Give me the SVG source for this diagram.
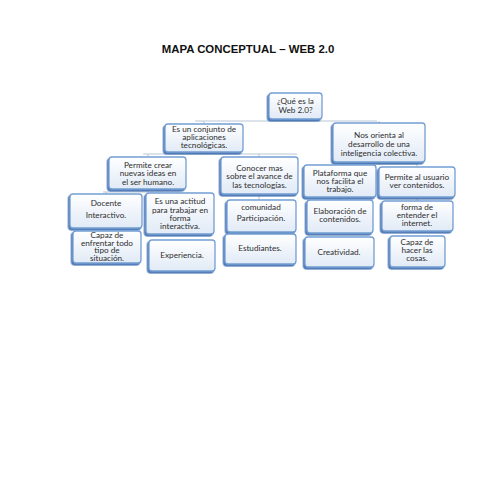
<svg xmlns="http://www.w3.org/2000/svg" width="495" height="495" viewBox="0 0 495 495">
<defs>
<linearGradient id="g" x1="0" y1="0" x2="0" y2="1">
<stop offset="0" stop-color="#ffffff"/>
<stop offset="1" stop-color="#e1eaf6"/>
</linearGradient>
<filter id="sh" x="-10%" y="-10%" width="120%" height="130%">
<feDropShadow dx="-1.5" dy="1.8" stdDeviation="0.6" flood-color="#3a6aad" flood-opacity="0.9"/>
</filter>
</defs>
<style>
.b{fill:url(#g);stroke:#739ed4;stroke-width:1.3;filter:url(#sh)}
.t{font-family:Lato,"Liberation Sans",sans-serif;font-size:8.2px;fill:#2e2e2e;text-anchor:middle}
.c{fill:none;stroke:#b9c6d6;stroke-width:1}
.title{font-family:"Liberation Sans",Arial,sans-serif;font-weight:bold;font-size:11.4px;fill:#111;text-anchor:middle}
</style>
<rect width="495" height="495" fill="#fff"/>
<text class="title" x="248" y="53">MAPA CONCEPTUAL – WEB 2.0</text>
<g id="connectors">
<path class="c" d="M295 119V121M195 121H377M204 121V124M379 121V123"/>
<path class="c" d="M204 152V154M143 154H297M148 154V157M259 154V157"/>
<path class="c" d="M379 162V164M340 164H417M340 164V166M417 164V167"/>
<path class="c" d="M148 188V192M103 192H180M106 192V194M180 192V194"/>
<path class="c" d="M259 194V200"/>
<path class="c" d="M340 197V200M417 197V201"/>
</g>
<g id="n0"><rect class="b" x="269" y="93" width="53" height="26" rx="3"/>
<text class="t" x="295.5" y="104">¿Qué es la</text><text class="t" x="295.5" y="113">Web 2.0?</text></g>
<g id="n1"><rect class="b" x="165" y="124" width="78" height="28" rx="3"/>
<text class="t" x="204" y="132">Es un conjunto de</text><text class="t" x="204" y="140">aplicaciones</text><text class="t" x="204" y="148">tecnológicas.</text></g>
<g id="n2"><rect class="b" x="333" y="123" width="92" height="39" rx="3"/>
<text class="t" x="379" y="138">Nos orienta al</text><text class="t" x="379" y="147">desarrollo de una</text><text class="t" x="379" y="156">inteligencia colectiva.</text></g>
<g id="n3"><rect class="b" x="109" y="157" width="77" height="32" rx="3"/>
<text class="t" x="148" y="168">Permite crear</text><text class="t" x="148" y="176">nuevas ideas en</text><text class="t" x="148" y="185">el ser humano.</text></g>
<g id="n4"><rect class="b" x="221" y="157" width="77" height="37" rx="3"/>
<text class="t" x="259.5" y="171">Conocer  mas</text><text class="t" x="259.5" y="179">sobre el avance de</text><text class="t" x="259.5" y="188">las tecnologías.</text></g>
<g id="n5"><rect class="b" x="304" y="165" width="72" height="32" rx="3"/>
<text class="t" x="340" y="176">Plataforma  que</text><text class="t" x="340" y="184">nos facilita el</text><text class="t" x="340" y="192">trabajo.</text></g>
<g id="n6"><rect class="b" x="379" y="167" width="76" height="30" rx="3"/>
<text class="t" x="417" y="180">Permite al usuario</text><text class="t" x="417" y="188">ver contenidos.</text></g>
<g id="n7"><rect class="b" x="70" y="194" width="72" height="34" rx="3"/>
<text class="t" x="106" y="206">Docente</text><text class="t" x="106" y="218">Interactivo.</text></g>
<g id="n8"><rect class="b" x="73" y="231" width="68" height="32" rx="3"/>
<text class="t" x="107" y="238">Capaz de</text><text class="t" x="107" y="246">enfrentar todo</text><text class="t" x="107" y="253">tipo de</text><text class="t" x="107" y="261">situación.</text></g>
<g id="n9"><rect class="b" x="146" y="193" width="68" height="41" rx="3"/>
<text class="t" x="180" y="204">Es una actitud</text><text class="t" x="180" y="213">para trabajar en</text><text class="t" x="180" y="221">forma</text><text class="t" x="180" y="229">interactiva.</text></g>
<g id="n10"><rect class="b" x="149" y="240" width="66" height="31" rx="3"/>
<text class="t" x="182" y="258">Experiencia.</text></g>
<g id="n11"><rect class="b" x="227" y="200" width="69" height="32" rx="3"/>
<text class="t" x="261" y="210">comunidad</text><text class="t" x="261" y="221">Participación.</text></g>
<g id="n12"><rect class="b" x="225" y="234" width="71" height="30" rx="3"/>
<text class="t" x="260" y="251">Estudiantes.</text></g>
<g id="n13"><rect class="b" x="307" y="200" width="66" height="33" rx="3"/>
<text class="t" x="340" y="214">Elaboración de</text><text class="t" x="340" y="222">contenidos.</text></g>
<g id="n14"><rect class="b" x="305" y="237" width="69" height="30" rx="3"/>
<text class="t" x="339" y="255">Creatividad.</text></g>
<g id="n15"><rect class="b" x="382" y="201" width="71" height="30" rx="3"/>
<text class="t" x="417" y="210">forma de</text><text class="t" x="417" y="218">entender el</text><text class="t" x="417" y="226">internet.</text></g>
<g id="n16"><rect class="b" x="390" y="236" width="55" height="31" rx="3"/>
<text class="t" x="417" y="245">Capaz de</text><text class="t" x="417" y="253">hacer las</text><text class="t" x="417" y="261">cosas.</text></g>
</svg>
